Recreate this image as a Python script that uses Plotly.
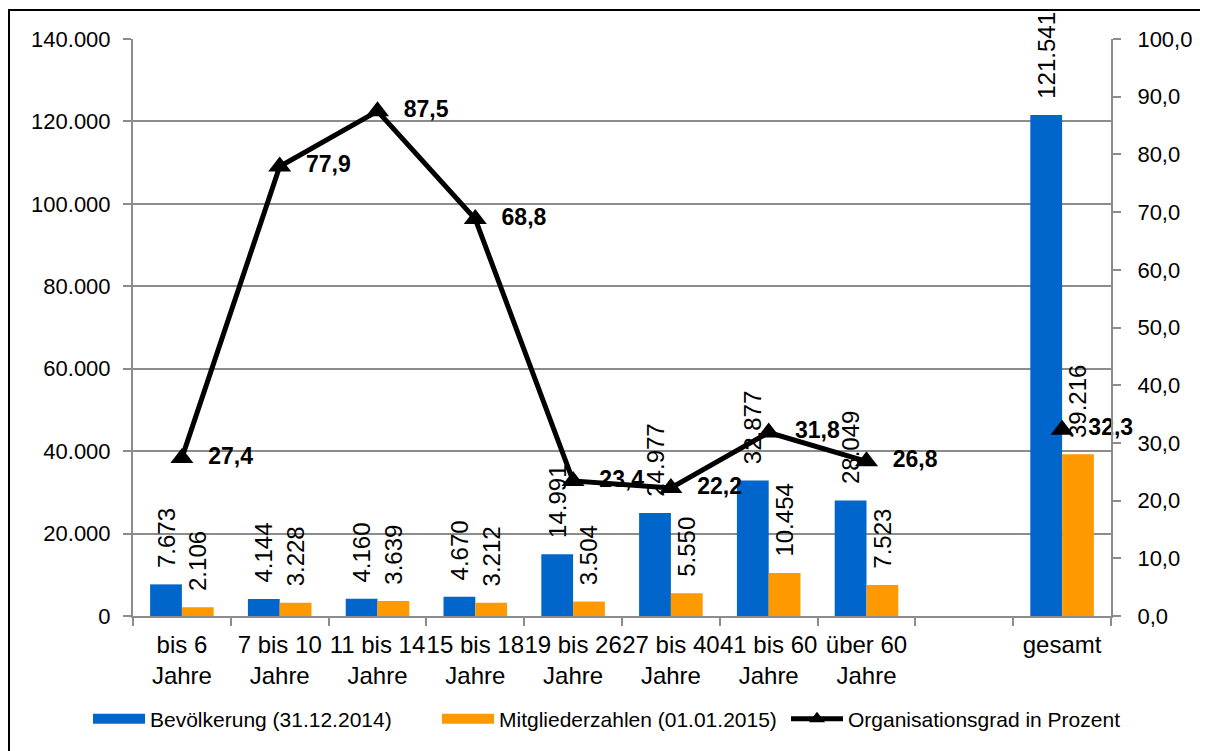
import plotly.graph_objects as go

categories = ["bis 6<br>Jahre", "7 bis 10<br>Jahre", "11 bis 14<br>Jahre", "15 bis 18<br>Jahre",
              "19 bis 26<br>Jahre", "27 bis 40<br>Jahre", "41 bis 60<br>Jahre", "über 60<br>Jahre",
              " ", "gesamt"]
bevoelkerung = [7673, 4144, 4160, 4670, 14991, 24977, 32877, 28049, None, 121541]
mitglieder = [2106, 3228, 3639, 3212, 3504, 5550, 10454, 7523, None, 39216]
orggrad = [27.4, 77.9, 87.5, 68.8, 23.4, 22.2, 31.8, 26.8, None, 32.3]

FONT = "Liberation Sans, Arial, sans-serif"
GRID = "#8c8c8c"
BLUE = "#0066CC"
ORANGE = "#FF9900"

# page body has an 8px margin; figure coords = screen coords - 8
L, T, R, B = 125, 31, 105, 143
W, H = 1208, 751
PW, PH = W - L - R, H - T - B


def px_x(sx):
    return (sx - 8 - L) / PW


def px_y(sy):
    return (H - B - (sy - 8)) / PH


fig = go.Figure()
fig.add_trace(go.Bar(
    x=categories, y=bevoelkerung, name="Bevölkerung (31.12.2014)", showlegend=False,
    marker=dict(color=BLUE, line=dict(width=0)),
    texttemplate="\u00a0\u00a0%{y:,d}", textposition="outside", textangle=-90,
    textfont=dict(size=24, color="black", family=FONT), cliponaxis=False,
    constraintext="none",
))
fig.add_trace(go.Bar(
    x=categories, y=mitglieder, name="Mitgliederzahlen (01.01.2015)", showlegend=False,
    marker=dict(color=ORANGE, line=dict(width=0)),
    texttemplate="\u00a0\u00a0%{y:,d}", textposition="outside", textangle=-90,
    textfont=dict(size=24, color="black", family=FONT), cliponaxis=False,
    constraintext="none",
))
fig.add_trace(go.Scatter(
    x=categories, y=orggrad, name="Organisationsgrad in Prozent", yaxis="y2",
    mode="lines+markers+text", connectgaps=False, showlegend=False,
    line=dict(color="black", width=5),
    marker=dict(symbol="triangle-up", size=20, color="black"),
    texttemplate="\u00a0\u00a0%{y:.1f}", textposition="middle right",
    textfont=dict(size=23, color="black", family=FONT, weight="bold"),
    cliponaxis=False,
))
# legend proxies (wide swatches like the original)
fig.add_trace(go.Scatter(x=[None], y=[None], mode="lines", name="Bevölkerung (31.12.2014)",
                         line=dict(color=BLUE, width=11)))
fig.add_trace(go.Scatter(x=[None], y=[None], mode="lines", name="Mitgliederzahlen (01.01.2015)",
                         line=dict(color=ORANGE, width=11)))
fig.add_trace(go.Scatter(x=[None], y=[None], mode="lines+markers", name="Organisationsgrad in Prozent",
                         line=dict(color="black", width=5),
                         marker=dict(symbol="triangle-up", size=14, color="black")))

fig.update_layout(
    width=W, height=H,
    margin=dict(l=L, r=R, t=T, b=B, autoexpand=False),
    paper_bgcolor="white", plot_bgcolor="white",
    separators=",.",
    font=dict(family=FONT, size=22, color="black"),
    bargap=0.35, bargroupgap=0,
    showlegend=True,
    legend=dict(orientation="h", x=px_x(88), xanchor="left",
                y=px_y(719), yanchor="middle",
                font=dict(size=21, family=FONT), itemwidth=52, traceorder="normal",
                entrywidth=282),
    xaxis=dict(type="category", range=[-0.5, 9.5], tickson="boundaries", ticks="outside",
               ticklen=8, tickcolor=GRID, tickwidth=2, showline=True, linecolor=GRID,
               linewidth=2, showgrid=False, tickfont=dict(size=24), tickangle=0,
               automargin=False, ticklabelstandoff=6, fixedrange=True),
    yaxis=dict(range=[0, 140000], dtick=20000, tickformat=",d", ticks="outside", ticklen=8,
               tickcolor=GRID, tickwidth=2, showline=True, linecolor=GRID, linewidth=2,
               showgrid=True, gridcolor=GRID, gridwidth=2, zeroline=False, automargin=False,
               tickfont=dict(size=22), ticklabelstandoff=8),
    yaxis2=dict(range=[0, 100], dtick=10, tickformat=".1f", overlaying="y", side="right",
                ticks="outside", ticklen=8, tickcolor=GRID, tickwidth=2, showline=True,
                linecolor=GRID, linewidth=2, showgrid=False, zeroline=False, automargin=False,
                tickfont=dict(size=22), ticklabelstandoff=12),
    shapes=[dict(type="rect", xref="paper", yref="paper",
                 x0=px_x(9), x1=px_x(1225),
                 y0=px_y(775), y1=px_y(10),
                 line=dict(color="black", width=2), fillcolor="rgba(0,0,0,0)", layer="below")],
)

fig.write_html("out.html")
